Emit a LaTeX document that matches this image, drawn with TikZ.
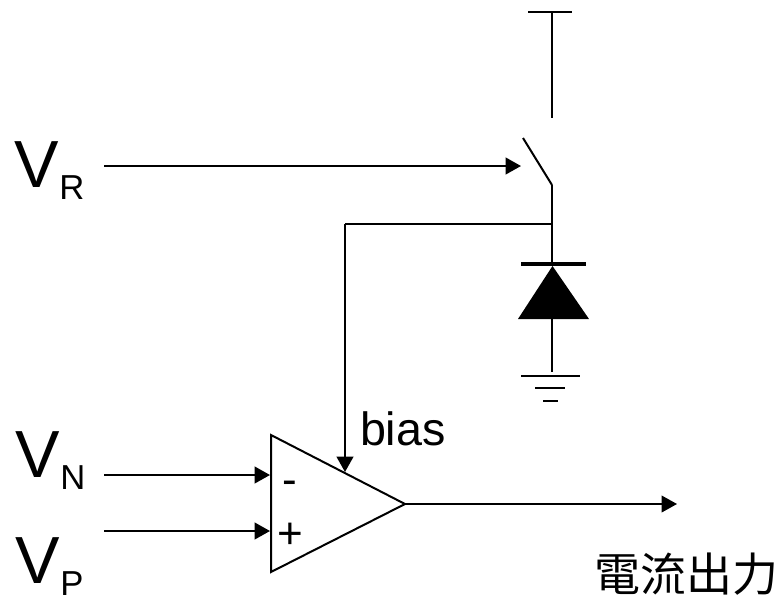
\documentclass[tikz,border=0pt]{standalone}
\usepackage{fontspec}
\setmainfont{Liberation Sans}
\newfontfamily\cjkfont{Noto Sans CJK TC}
\usetikzlibrary{arrows.meta}
\tikzset{
    wire/.style={line width=1.5pt,black},
    thinwire/.style={line width=1.1pt,black},
    arrowwire/.style={wire,-{Triangle[length=11.5pt,width=12.5pt]}},
    label/.style={inner sep=0pt,outer sep=0pt,anchor=base west},
}
\newcommand{\voltlabel}[1]{\fontsize{50}{50}\selectfont V\raisebox{-9pt}{\fontsize{26}{26}\selectfont #1}}
\begin{document}
\begin{tikzpicture}[x=0.75pt,y=-0.75pt]
    \useasboundingbox (0,0) rectangle (783,597);

    % supply and switch
    \coordinate (topleft) at (528,12);
    \coordinate (topright) at (572,12);
    \coordinate (top) at (552,12);
    \coordinate (contact) at (552,118);
    \coordinate (blade) at (523,138);
    \coordinate (hinge) at (552,185);
    \coordinate (tap) at (552,224);
    \coordinate (biascorner) at (345,224);
    \draw[wire] (topleft) -- (topright);
    \draw[wire] (top) -- (contact);
    \draw[wire] (blade) -- (hinge);

    % diode
    \coordinate (cathode) at (552,264);
    \coordinate (cathodeleft) at (521,264);
    \coordinate (cathoderight) at (586,264);
    \coordinate (apex) at (552.5,266);
    \coordinate (baseleft) at (518,319);
    \coordinate (baseright) at (589,319);
    \coordinate (anode) at (552,319);
    \coordinate (gnd) at (552,372);
    \draw[thinwire] (hinge) -- (cathode);
    \draw[line width=3pt] (cathodeleft) -- (cathoderight);
    \fill (apex) -- (baseleft) -- (baseright) -- cycle;
    \draw[thinwire] (anode) -- (gnd);

    % ground
    \coordinate (gndaleft) at (521,376);
    \coordinate (gndaright) at (580,376);
    \coordinate (gndbleft) at (535,388);
    \coordinate (gndbright) at (565,388);
    \coordinate (gndcleft) at (543,401);
    \coordinate (gndcright) at (558,401);
    \draw[line width=1.9pt] (gndaleft) -- (gndaright);
    \draw[line width=1.7pt] (gndbleft) -- (gndbright);
    \draw[line width=1.7pt] (gndcleft) -- (gndcright);

    % amplifier
    \coordinate (amptop) at (271,435);
    \coordinate (ampbot) at (271,572);
    \coordinate (ampout) at (405,504);
    \coordinate (biasin) at (345,472);
    \coordinate (minusin) at (270,475);
    \coordinate (plusin) at (270,531);
    \draw[wire,line join=miter] (amptop) -- (ampout) -- (ampbot) -- cycle;
    \node[label,font=\fontsize{33}{33}\selectfont] (minus) at (282,494) {-};
    \node[label,font=\fontsize{33}{33}\selectfont] (plus) at (277,548) {+};

    % signals
    \coordinate (vrstart) at (104,166);
    \coordinate (vrend) at (521,166);
    \coordinate (vnstart) at (104,475);
    \coordinate (vpstart) at (104,531);
    \coordinate (outend) at (677,504);
    \draw[arrowwire] (vrstart) -- (vrend);
    \draw[wire] (tap) -- (biascorner);
    \draw[arrowwire] (biascorner) -- (biasin);
    \draw[arrowwire] (vnstart) -- (minusin);
    \draw[arrowwire] (vpstart) -- (plusin);
    \draw[thinwire,-{Triangle[length=11.5pt,width=12.5pt]}] (ampout) -- (outend);

    % labels
    \node[label] (vr) at (15,187) {\voltlabel{R}};
    \node[label] (vn) at (16,477) {\voltlabel{N}};
    \node[label] (vp) at (16,583) {\voltlabel{P}};
    \node[label,font=\fontsize{35}{35}\selectfont] (bias) at (360,445) {bias};
    \node[label,font=\cjkfont\fontsize{34.5}{34.5}\selectfont] (output) at (594,591) {電流出力};
\end{tikzpicture}
\end{document}
